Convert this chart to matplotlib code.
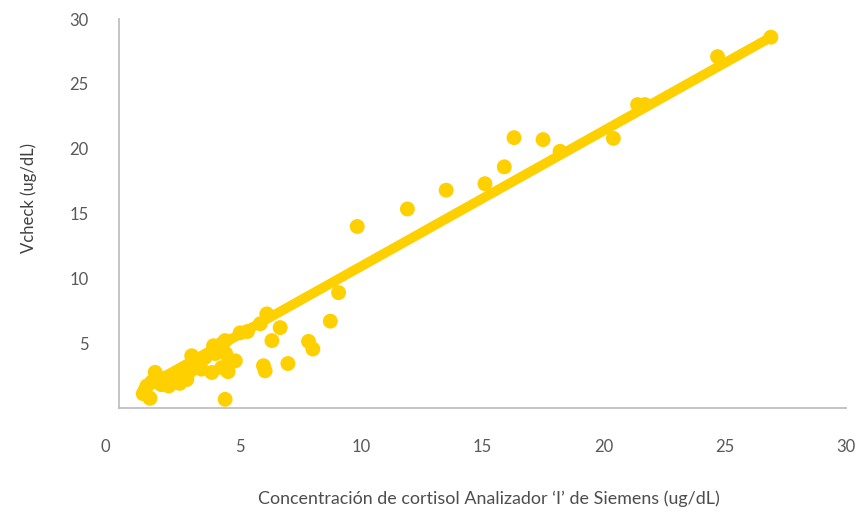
import matplotlib.pyplot as plt
import matplotlib.transforms as mtransforms

# 字体
plt.rcParams['font.family'] = ['Lato', 'DejaVu Sans']

# datos
siemens = [1.28, 1.07, 1.00, 1.15, 1.35, 1.49, 1.60, 1.75, 1.90, 2.05,
           2.20, 2.35, 2.50, 2.65, 2.80, 2.95, 3.00, 3.20, 3.40, 3.55,
           3.83, 3.97, 3.90, 4.24, 4.25, 4.38, 4.40, 4.55, 4.80, 4.38,
           4.50, 5.00, 5.30, 5.83, 5.96, 6.03, 6.10, 6.31, 6.65, 6.97,
           7.82, 8.00, 8.72, 9.06, 9.83, 11.9, 13.5, 15.1, 15.9, 16.3,
           17.5, 18.2, 20.4, 21.4, 21.7, 24.7, 26.9]
vcheck = [0.75, 1.30, 1.10, 1.70, 2.00, 2.75, 2.20, 1.80, 2.30, 1.70,
          2.00, 2.40, 1.90, 2.60, 2.20, 2.90, 4.03, 3.30, 3.00, 3.90,
          2.74, 4.20, 4.80, 3.12, 4.96, 5.20, 4.20, 3.40, 3.64, 0.67,
          2.80, 5.80, 5.90, 6.50, 3.26, 2.87, 7.26, 5.20, 6.20, 3.43,
          5.14, 4.55, 6.70, 8.90, 14.0, 15.35, 16.8, 17.3, 18.6, 20.85,
          20.7, 19.8, 20.8, 23.4, 23.4, 27.1, 28.6]

# línea de tendencia (extremos)
trend_x = [1.0, 26.9]
trend_y = [1.53, 28.6]

x_ticks = [0, 5, 10, 15, 20, 25, 30]
y_ticks = [5, 10, 15, 20, 25, 30]

gold = '#FFD000'
grey = '#595959'

fig = plt.figure(figsize=(8.63, 5.14), dpi=100)
ax = fig.add_axes([0.1379, 0.2062, 0.8424, 0.7568])

ax.plot(trend_x, trend_y, color=gold, linewidth=7, solid_capstyle='round', zorder=2)
ax.scatter(siemens, vcheck, s=115, color=gold, edgecolors='none', zorder=3)

ax.set_xlim(0, 30)
ax.set_ylim(0, 30)
ax.set_xticks(x_ticks)
ax.set_yticks(y_ticks)
ax.tick_params(length=0, labelsize=12, colors=grey)
ax.tick_params(axis='x', pad=22)
ax.tick_params(axis='y', pad=22)

# el "0" del eje x aparece desplazado a la izquierda
lbl0 = ax.get_xticklabels()[0]
lbl0.set_transform(lbl0.get_transform() + mtransforms.ScaledTranslation(-0.14, 0, fig.dpi_scale_trans))

for side in ['top', 'right']:
    ax.spines[side].set_visible(False)
for side in ['left', 'bottom']:
    ax.spines[side].set_color('#BFBFBF')
    ax.spines[side].set_linewidth(1.3)

ax.set_xlabel('Concentración de cortisol Analizador ‘I’ de Siemens (ug/dL)', fontsize=12.9, color='#4d4d4d')
ax.set_ylabel('Vcheck (ug/dL)', fontsize=12, color='#404040')
ax.xaxis.set_label_coords(0.509, -0.211)
ax.yaxis.set_label_coords(-0.113, 0.54)

fig.savefig('out.png', dpi=100)
